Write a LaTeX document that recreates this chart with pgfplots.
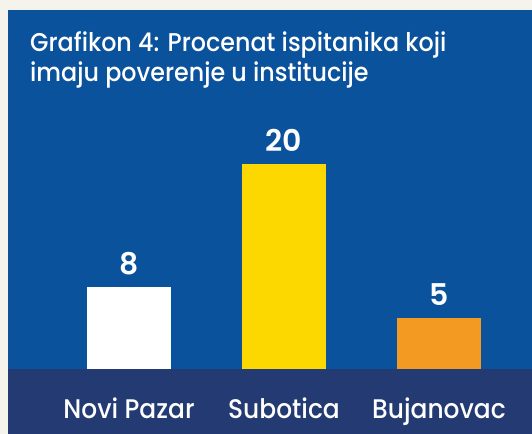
\documentclass[border=0pt]{standalone}
\usepackage{pgfplots}
\pgfplotsset{compat=1.18}
\usepackage{fontspec}
\setmainfont{Poppins}[UprightFont={* Medium}, BoldFont={* SemiBold}]
\definecolor{cream}{HTML}{F5F4EC}
\definecolor{bgblue}{HTML}{0B529C}
\definecolor{navy}{HTML}{233A73}
\definecolor{byellow}{HTML}{FDD800}
\definecolor{borange}{HTML}{F39A22}
\newcommand{\tall}[1]{\scalebox{1}[1.08]{#1}}
\begin{document}
\begin{tikzpicture}[x=1bp,y=1bp]
\fill[cream] (0,0) rectangle (532,434);
\fill[bgblue] (8,64.5) rectangle (532,424);
\fill[navy] (8,0) rectangle (532,64.5);
\node[anchor=base west,inner sep=0pt,text=white,font=\fontsize{23.9}{28}\selectfont] at (30,382.5) {\tall{Grafikon 4: Procenat ispitanika koji}};
\node[anchor=base west,inner sep=0pt,text=white,font=\fontsize{23.9}{28}\selectfont] at (30,352.5) {\tall{imaju poverenje u institucije}};
\begin{axis}[
  at={(8bp,64.5bp)}, anchor=south west,
  scale only axis, width=524bp, height=359.5bp,
  xmin=-0.7806, xmax=2.6, ymin=0, ymax=35.0,
  axis line style={draw=none}, tick style={draw=none},
  ytick=\empty, xtick={0,1,2},
  xticklabels={\tall{Novi Pazar},\tall{Subotica},\tall{Bujanovac}},
  xticklabel style={anchor=base, yshift=-45bp, text=white, font=\fontsize{25}{28}\selectfont, inner sep=0pt},
  /pgf/number format/assume math mode=true,
  ybar, bar width=84bp, bar shift=0pt,
  nodes near coords,
  every node near coord/.append style={anchor=base, yshift=13bp, text=white, font=\fontsize{30}{34}\selectfont\bfseries, inner sep=0pt},
  clip=false,
]
\addplot[fill=white, draw=none] coordinates {(0,8)};
\addplot[fill=byellow, draw=none] coordinates {(1,20)};
\addplot[fill=borange, draw=none] coordinates {(2,5)};
\end{axis}
\pgfresetboundingbox
\useasboundingbox (0,0) rectangle (532,434);
\end{tikzpicture}
\end{document}
